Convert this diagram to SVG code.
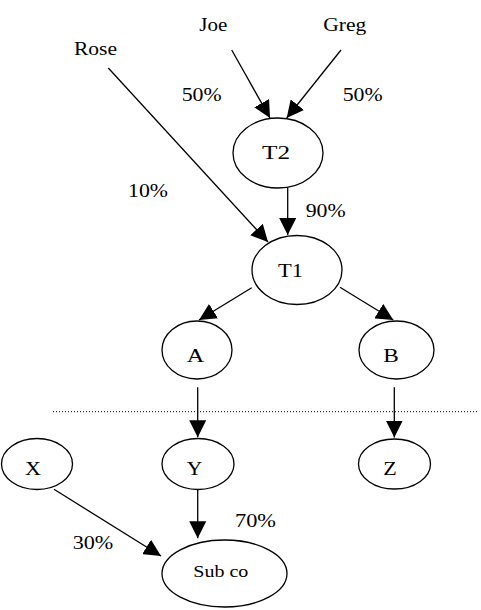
<svg xmlns="http://www.w3.org/2000/svg" width="481" height="610" viewBox="0 0 481 610">
<style>
  .n ellipse { fill: #fff; stroke: #000; stroke-width: 1.3; }
  .t { font-family: "Liberation Serif", "Times New Roman", serif; font-size: 18px; fill: #000; }
  .s { font-family: "Liberation Serif", "Times New Roman", serif; font-size: 16px; fill: #000; }
  .e line { stroke: #000; stroke-width: 1.3; marker-end: url(#ah); }
</style>
<defs>
  <marker id="ah" markerUnits="userSpaceOnUse" markerWidth="17" markerHeight="17" refX="17" refY="8.5" orient="auto">
    <path d="M0,0 L17,8.5 L0,17 z" fill="#000"/>
  </marker>
</defs>
<rect width="481" height="610" fill="#fff"/>
<g id="sep">
  <line x1="53" y1="411.7" x2="478" y2="411.7" stroke="#000" stroke-width="1" stroke-dasharray="1 2"/>
</g>
<g id="connectors" class="e">
  <line x1="231.7" y1="50" x2="270" y2="118"/>
  <line x1="341" y1="50" x2="286.7" y2="118"/>
  <line x1="108.3" y1="68" x2="268" y2="242"/>
  <line x1="287.7" y1="188" x2="287.7" y2="235"/>
  <line x1="251.7" y1="287.7" x2="199" y2="320"/>
  <line x1="340" y1="287.3" x2="393.3" y2="320"/>
  <line x1="197.7" y1="387.3" x2="197.7" y2="437.3"/>
  <line x1="394.3" y1="387.3" x2="394.3" y2="437.5"/>
  <line x1="54" y1="489.3" x2="161" y2="556"/>
  <line x1="197.7" y1="490" x2="197.7" y2="538.3"/>
</g>
<g id="edge-labels">
  <text class="t" x="181.7" y="100.7" textLength="40" lengthAdjust="spacingAndGlyphs">50%</text>
  <text class="t" x="342.7" y="100.7" textLength="40" lengthAdjust="spacingAndGlyphs">50%</text>
  <text class="t" x="128" y="197" textLength="40" lengthAdjust="spacingAndGlyphs">10%</text>
  <text class="t" x="305.7" y="217" textLength="40" lengthAdjust="spacingAndGlyphs">90%</text>
  <text class="t" x="235" y="526.5" textLength="41" lengthAdjust="spacingAndGlyphs">70%</text>
  <text class="t" x="72.7" y="549" textLength="40.6" lengthAdjust="spacingAndGlyphs">30%</text>
</g>
<g id="Joe"><text class="t" x="199.3" y="30.7" textLength="28" lengthAdjust="spacingAndGlyphs">Joe</text></g>
<g id="Greg"><text class="t" x="323.3" y="31" textLength="43" lengthAdjust="spacingAndGlyphs">Greg</text></g>
<g id="Rose"><text class="t" x="74" y="55" textLength="43" lengthAdjust="spacingAndGlyphs">Rose</text></g>
<g id="T2" class="n">
  <ellipse cx="278" cy="153" rx="45" ry="35"/>
  <text class="t" x="262" y="158.5" textLength="28" lengthAdjust="spacingAndGlyphs">T2</text>
</g>
<g id="T1" class="n">
  <ellipse cx="297" cy="270" rx="45" ry="34.5"/>
  <text class="t" x="278" y="276.7" textLength="25" lengthAdjust="spacingAndGlyphs">T1</text>
</g>
<g id="A" class="n">
  <ellipse cx="197" cy="350" rx="35" ry="29"/>
  <text class="t" x="186.7" y="361.7" textLength="17.5" lengthAdjust="spacingAndGlyphs">A</text>
</g>
<g id="B" class="n">
  <ellipse cx="396.5" cy="350" rx="37.5" ry="29"/>
  <text class="t" x="383.3" y="361.7" textLength="15.5" lengthAdjust="spacingAndGlyphs">B</text>
</g>
<g id="X" class="n">
  <ellipse cx="37" cy="464" rx="35.5" ry="25.5"/>
  <text class="t" x="25" y="475" textLength="16" lengthAdjust="spacingAndGlyphs">X</text>
</g>
<g id="Y" class="n">
  <ellipse cx="198" cy="464" rx="36" ry="25.5"/>
  <text class="t" x="186.7" y="475" textLength="15.5" lengthAdjust="spacingAndGlyphs">Y</text>
</g>
<g id="Z" class="n">
  <ellipse cx="394.5" cy="464" rx="36" ry="25"/>
  <text class="t" x="383.3" y="474.5" textLength="13.5" lengthAdjust="spacingAndGlyphs">Z</text>
</g>
<g id="Subco" class="n">
  <ellipse cx="224.5" cy="573.5" rx="62.5" ry="33.5"/>
  <text class="s" x="193.3" y="576.5" textLength="55" lengthAdjust="spacingAndGlyphs">Sub co</text>
</g>
</svg>
